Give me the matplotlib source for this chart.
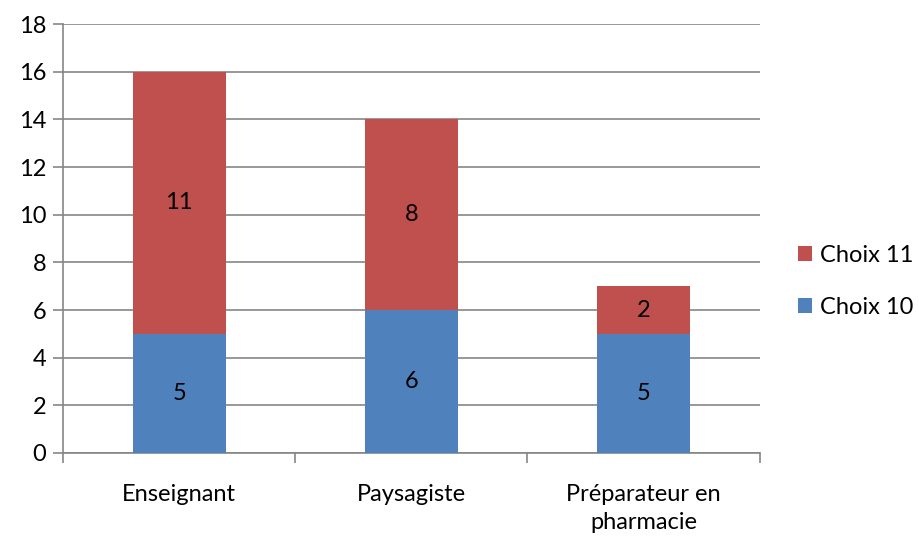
import numpy as np
import matplotlib.pyplot as plt

categories = ["Enseignant", "Paysagiste", "Préparateur en\npharmacie"]
choix10 = [5, 6, 5]
choix11 = [11, 8, 2]
yticks = list(range(0, 19, 2))

plt.rcParams['font.family'] = ['Lato', 'DejaVu Sans']

fig = plt.figure(figsize=(9.19, 5.38), dpi=100)
ax = fig.add_axes([0.0686, 0.158, 0.758, 0.797])

x = np.arange(len(categories))
b10 = ax.bar(x, choix10, width=0.4, color="#4F81BD", label="Choix 10", zorder=3)
b11 = ax.bar(x, choix11, width=0.4, bottom=choix10, color="#C0504D",
             label="Choix 11", zorder=3)

for bars, vals, base in [(b10, choix10, [0, 0, 0]), (b11, choix11, choix10)]:
    for bar, v, b in zip(bars, vals, base):
        ax.text(bar.get_x() + bar.get_width() / 2, b + v / 2, str(v),
                ha="center", va="center", fontsize=17, color="black", zorder=4)

ax.set_xlim(-0.5, 2.5)
ax.set_ylim(0, 18)
ax.set_yticks(yticks)
ax.yaxis.grid(True, color="#868686", linewidth=1.2, zorder=0)
ax.tick_params(axis="y", labelsize=17, length=7, color="#868686", width=1.2, pad=5)

ax.set_xticks(x)
ax.set_xticklabels(categories, fontsize=17, linespacing=1.45)
ax.set_xticks([-0.5, 0.5, 1.5, 2.5], minor=True)
ax.tick_params(axis="x", which="major", length=0, pad=22)
ax.tick_params(axis="x", which="minor", length=7, color="#868686", width=1.2)

for s in ["top", "right"]:
    ax.spines[s].set_visible(False)
for s in ["left", "bottom"]:
    ax.spines[s].set_color("#868686")
    ax.spines[s].set_linewidth(1.2)

handles = [b11, b10]
ax.legend(handles, ["Choix 11", "Choix 10"], loc="center left",
          bbox_to_anchor=(1.055, 0.40), frameon=False, fontsize=17,
          handlelength=0.6, handleheight=0.6, handletextpad=0.35,
          labelspacing=1.3, borderaxespad=0.0, borderpad=0.0)

fig.savefig("out.png", dpi=100)
